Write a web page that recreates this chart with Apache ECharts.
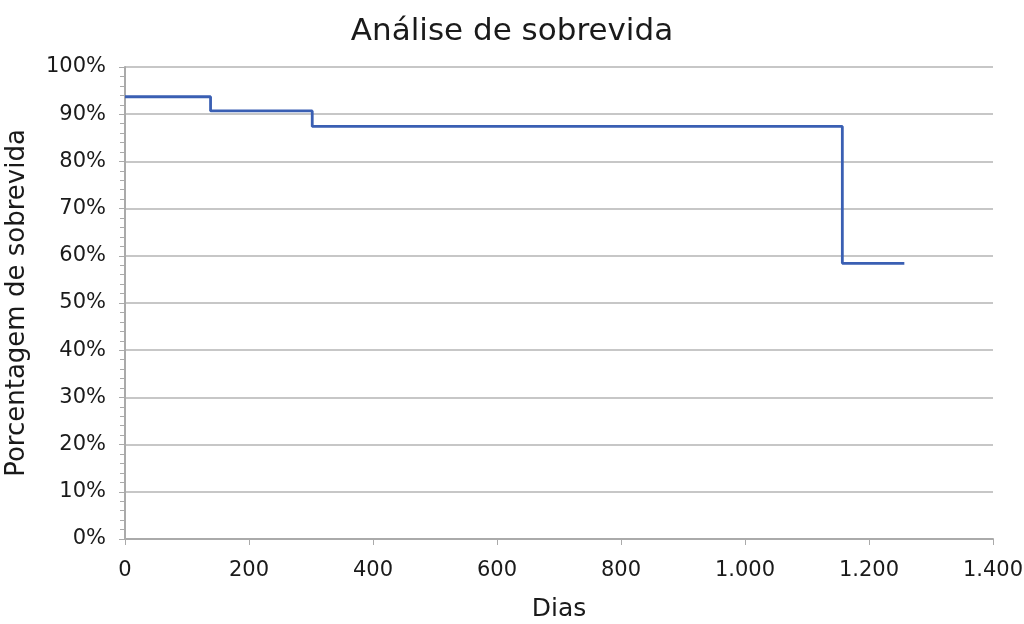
<!DOCTYPE html>
<html><head><meta charset="utf-8">
<script src="https://cdn.jsdelivr.net/npm/echarts@6/dist/echarts.min.js"></script>
<style>html,body{margin:0;padding:0;background:#fff}#c{width:1024px;height:624px}</style>
</head><body><div id="c"></div>
<script>
var days = [0, 138, 302, 1157, 1257];
var survival = [93.7, 90.7, 87.4, 58.4, 58.4];
var title = 'Análise de sobrevida';
var xName = 'Dias';
var yName = 'Porcentagem de sobrevida';

var data = days.map(function(d, i){ return [d, survival[i]]; });
var chart = echarts.init(document.getElementById('c'));
var font = 'DejaVu Sans';
chart.setOption({
  animation: false,
  title: { text: title, left: 'center', top: 11, textStyle: { fontFamily: font, fontSize: 31, fontWeight: 'normal', color: '#1a1a1a' } },
  grid: { left: 125, right: 31, top: 67, bottom: 85, containLabel: false, outerBoundsMode: 'none' },
  xAxis: {
    type: 'value', min: 0, max: 1400, interval: 200,
    name: xName, nameLocation: 'middle', nameGap: 58,
    nameTextStyle: { fontFamily: font, fontSize: 25, color: '#1a1a1a' },
    axisLine: { show: true, lineStyle: { color: '#aaaaaa', width: 2 } },
    axisTick: { show: true, inside: false, length: 6, lineStyle: { color: '#aaaaaa' } },
    splitLine: { show: false },
    axisLabel: { fontFamily: font, fontSize: 21, color: '#1a1a1a', margin: 21,
      formatter: function(v){ return v >= 1000 ? (Math.floor(v/1000) + '.' + String(v%1000).padStart(3,'0')) : String(v); } }
  },
  yAxis: {
    type: 'value', min: 0, max: 100, interval: 10,
    name: yName, nameLocation: 'middle', nameGap: 95,
    nameTextStyle: { fontFamily: font, fontSize: 26, color: '#1a1a1a' },
    axisLine: { show: true, lineStyle: { color: '#aaaaaa', width: 2 } },
    axisTick: { show: true, length: 6, lineStyle: { color: '#aaaaaa' } },
    minorTick: { show: true, splitNumber: 5, length: 5, lineStyle: { color: '#aaaaaa' } },
    splitLine: { show: true, lineStyle: { color: '#b4b4b4', width: 1.5 } },
    axisLabel: { fontFamily: font, fontSize: 21, color: '#1a1a1a', margin: 19, formatter: '{value}%' }
  },
  series: [{
    type: 'line', step: 'end', data: data, symbol: 'none',
    lineStyle: { color: '#3a5fb3', width: 2.8 }
  }]
});
</script></body></html>
